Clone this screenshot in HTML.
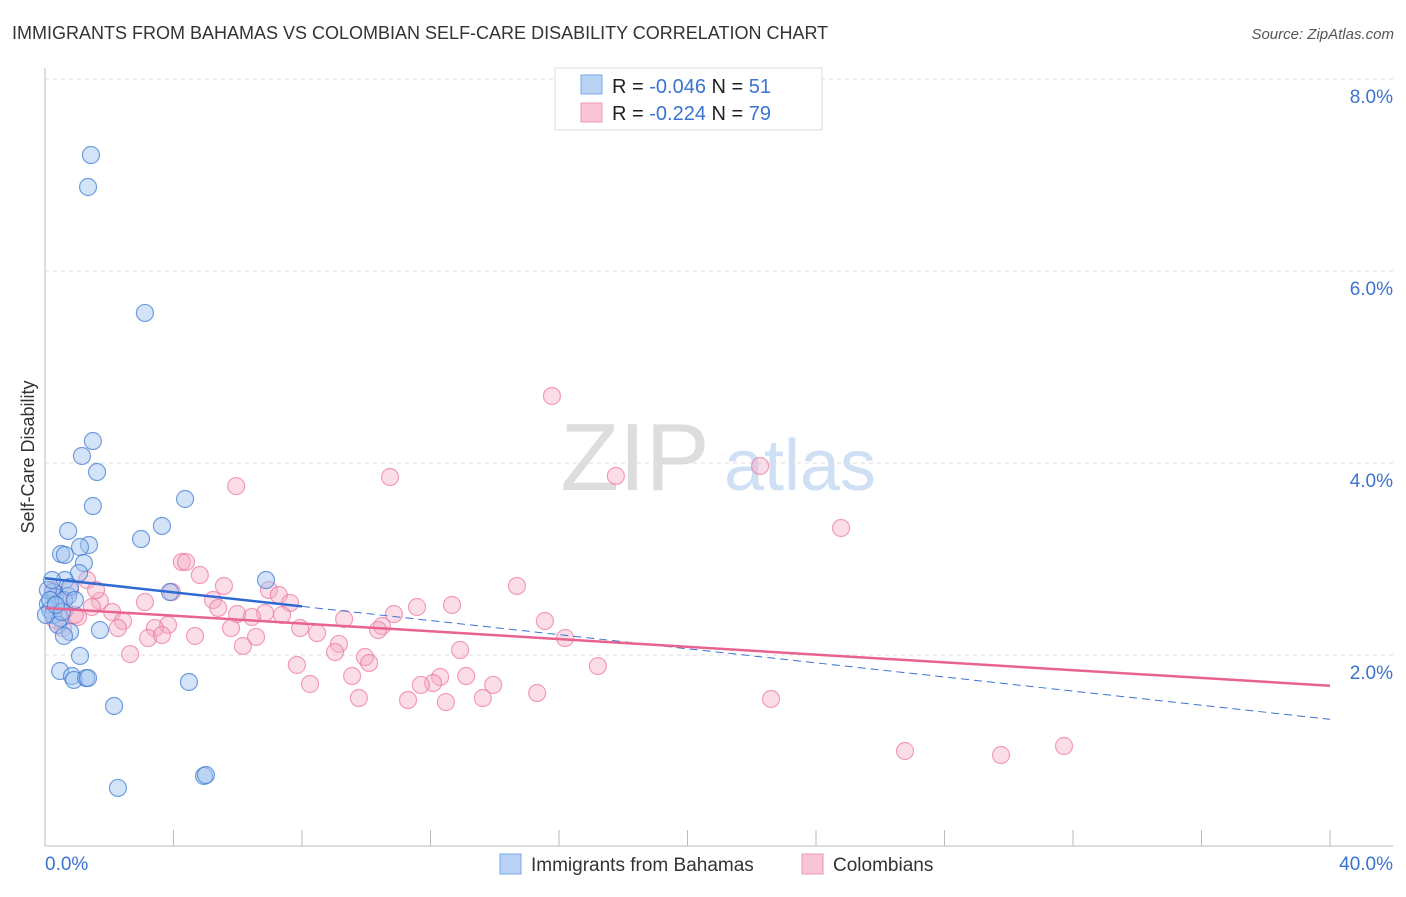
<!DOCTYPE html>
<html><head><meta charset="utf-8"><style>
body{margin:0;background:#fff;font-family:"Liberation Sans",sans-serif}
svg text{font-family:"Liberation Sans",sans-serif}
</style></head><body>
<svg id="c" width="1406" height="892" xmlns="http://www.w3.org/2000/svg">
<text x="12" y="39" font-size="18" fill="#333">IMMIGRANTS FROM BAHAMAS VS COLOMBIAN SELF-CARE DISABILITY CORRELATION CHART</text>
<text x="1394" y="39" font-size="15" fill="#555" font-style="italic" text-anchor="end">Source: ZipAtlas.com</text>
<text x="635" y="490" font-size="96" fill="#ddd" font-family="Liberation Serif" text-anchor="middle">ZIP</text>
<text x="800" y="490" font-size="72" fill="#cfe0f5" text-anchor="middle">atlas</text>
<text transform="translate(34,457) rotate(-90)" font-size="18" fill="#333" text-anchor="middle">Self-Care Disability</text>
<g id="axes"></g><g id="marks"></g>
<g>
<rect x="555" y="68" width="267" height="62" fill="#fff" stroke="#ddd"/>
<rect x="581" y="75" width="21" height="19" fill="#b8d3f5" stroke="#7aa8e8"/>
<rect x="581" y="103" width="21" height="19" fill="#f8c6d5" stroke="#ee9ab4"/>
<text x="612" y="93" font-size="20" fill="#222">R = <tspan fill="#3b73d1">-0.046</tspan>   N =  <tspan fill="#3b73d1">51</tspan></text>
<text x="612" y="120" font-size="20" fill="#222">R =  <tspan fill="#3b73d1">-0.224</tspan>   N = <tspan fill="#3b73d1">79</tspan></text>
</g>
<g>
<rect x="500" y="854" width="21" height="20" fill="#b8d3f5" stroke="#7aa8e8"/>
<text x="531" y="871" font-size="19" fill="#333">Immigrants from Bahamas</text>
<rect x="802" y="854" width="21" height="20" fill="#f8c6d5" stroke="#ee9ab4"/>
<text x="833" y="871" font-size="19" fill="#333">Colombians</text>
</g>
</svg>
<script>
const yTicks=[2,4,6,8];
const yTickLabels=["2.0%","4.0%","6.0%","8.0%"];
const xTickLabels=["0.0%","40.0%"];
const bahamasPx=[[91,155],[88,187],[145,313],[93,441],[82,456],[97,472],[185,499],[93,506],[162,526],[68,531],[141,539],[89,545],[80,547],[61,554],[65,555],[84,563],[79,573],[65,580],[266,580],[170,592],[53,592],[55,597],[68,596],[64,600],[48,604],[50,610],[53,615],[60,618],[58,625],[70,632],[100,630],[64,636],[80,656],[60,671],[72,676],[74,680],[86,678],[88,678],[189,682],[114,706],[204,776],[206,775],[118,788],[48,590],[50,600],[46,615],[52,580],[62,612],[56,605],[70,587],[75,600]];
const colombiaPx=[[552,396],[760,466],[390,477],[616,476],[236,486],[841,528],[182,562],[186,562],[200,575],[87,580],[517,586],[224,586],[53,590],[269,590],[279,595],[290,603],[172,592],[145,602],[100,601],[213,600],[92,607],[218,608],[452,605],[417,607],[112,612],[237,614],[265,613],[252,617],[282,615],[394,614],[344,619],[123,621],[78,617],[545,621],[168,625],[155,628],[118,628],[382,626],[378,630],[231,628],[300,628],[317,633],[148,638],[162,635],[195,636],[256,637],[339,644],[565,638],[243,646],[335,652],[460,650],[130,654],[365,657],[369,663],[297,665],[598,666],[352,676],[466,676],[440,677],[433,683],[421,685],[493,685],[310,684],[537,693],[359,698],[408,700],[446,702],[483,698],[771,699],[905,751],[1001,755],[1064,746],[60,600],[65,610],[70,590],[55,620],[63,628],[75,615],[96,590]];
// data values (x in %, y in %)
const bahamasX=bahamasPx.map(p=>+((p[0]-45)/32.125).toFixed(2));
const bahamasY=bahamasPx.map(p=>+((847-p[1])/96).toFixed(3));
const colombiaX=colombiaPx.map(p=>+((p[0]-45)/32.125).toFixed(2));
const colombiaY=colombiaPx.map(p=>+((847-p[1])/96).toFixed(3));
const bahamasTrend=[2.8,1.33]; // y at x=0 and x=40
const colombiaTrend=[2.49,1.68];
const X=v=>45+v*32.125, Y=v=>847-v*96;
const NS="http://www.w3.org/2000/svg";
function mk(t,a,p){const e=document.createElementNS(NS,t);for(const k in a)e.setAttribute(k,a[k]);p.appendChild(e);return e;}
const ax=document.getElementById('axes'), mg=document.getElementById('marks');
let e=mk('line',{x1:45,y1:68,x2:45,y2:846,stroke:'#bbb'},ax);

e=mk('line',{x1:45,y1:846,x2:1393,y2:846,stroke:'#bbb'},ax);

for(let i=1;i<=10;i++){e=mk('line',{x1:X(i*4),y1:830,x2:X(i*4),y2:846,stroke:'#bbb'},ax);
}
yTicks.forEach((v,i)=>{e=mk('line',{x1:45,y1:Y(v),x2:1393,y2:Y(v),stroke:'#ddd','stroke-dasharray':'4,4'},ax);

e=mk('text',{x:1393,y:Y(v)+24,'font-size':19,fill:'#3b73d1','text-anchor':'end'},ax);e.textContent=yTickLabels[i];
});
e=mk('text',{x:45,y:870,'font-size':19,fill:'#3b73d1'},ax);e.textContent=xTickLabels[0];

e=mk('text',{x:1393,y:870,'font-size':19,fill:'#3b73d1','text-anchor':'end'},ax);e.textContent=xTickLabels[1];

colombiaX.forEach((v,i)=>{e=mk('circle',{cx:X(v),cy:Y(colombiaY[i]),r:8.5,fill:'rgba(246,170,196,0.4)',stroke:'rgba(236,120,160,0.7)','stroke-width':1.2},mg);
});
bahamasX.forEach((v,i)=>{e=mk('circle',{cx:X(v),cy:Y(bahamasY[i]),r:8.5,fill:'rgba(160,196,240,0.45)',stroke:'rgba(60,120,210,0.7)','stroke-width':1.2},mg);
});
const by=x=>bahamasTrend[0]+(bahamasTrend[1]-bahamasTrend[0])*x/40;
e=mk('line',{x1:X(8),y1:Y(by(8)),x2:X(40),y2:Y(by(40)),stroke:'#3b73d1','stroke-width':1,'stroke-dasharray':'8,5'},mg);

e=mk('line',{x1:X(0),y1:Y(by(0)),x2:X(8),y2:Y(by(8)),stroke:'#2f6ad0','stroke-width':2.5},mg);

e=mk('line',{x1:X(0),y1:Y(colombiaTrend[0]),x2:X(40),y2:Y(colombiaTrend[1]),stroke:'#e8638f','stroke-width':2.5},mg);

</script>
</body></html>
